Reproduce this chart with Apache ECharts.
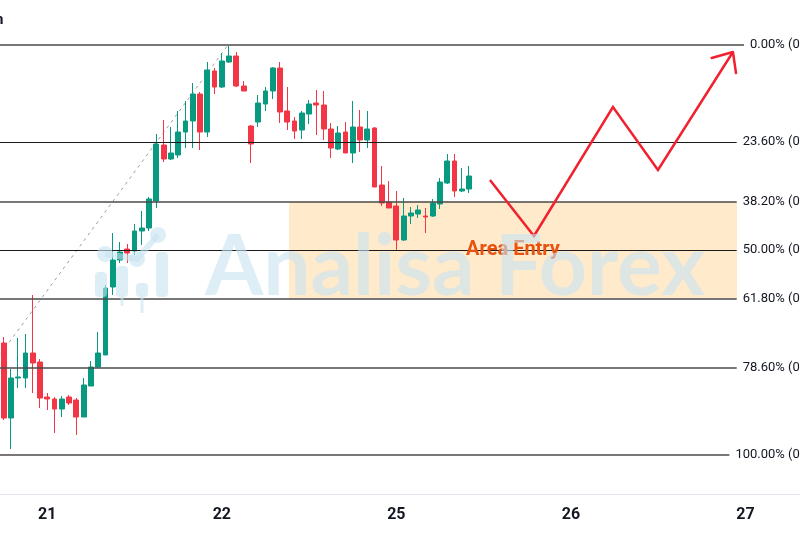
<!DOCTYPE html>
<html>
<head>
<meta charset="utf-8">
<script src="https://cdn.jsdelivr.net/npm/echarts@6/dist/echarts.min.js"></script>
<style>html,body{margin:0;padding:0;background:#fff}#c{width:800px;height:533px}</style>
</head>
<body>
<div id="c"></div>
<script>
// ---- categories (hourly slots, weekend skipped) ----
const sessionDays = ['20', '21', '22', '25', '26', '27'];
const sessionFirstHour = [18, 0, 0, 0, 0, 0];
const sessionLastHour = [23, 23, 23, 23, 23, 7];
const categories = [];
sessionDays.forEach(function (d, k) {
  for (let h = sessionFirstHour[k]; h <= sessionLastHour[k]; h++) {
    categories.push(d + ' ' + (h < 10 ? '0' + h : h) + ':00');
  }
});

// ---- candles ----
const opens = [0.6612,0.6537,0.6577,0.6577,0.6602,0.6593,0.6558,0.6556,0.6546,0.6558,
  0.6555,0.6538,0.6569,0.6588,0.6600,0.6668,0.6695,0.6706,0.6704,0.6724,
  0.6727,0.6754,0.6810,0.6796,0.6800,0.6823,0.6834,0.6861,0.6823,0.6884,
  0.6868,0.6893,0.6899,0.6869,0.6829,0.6833,0.6851,0.6864,0.6887,0.6844,
  0.6834,0.6825,0.6841,0.6852,0.6850,0.6826,0.6806,0.6823,0.6802,0.6828,
  0.6815,0.6827,0.6770,0.6753,0.6749,0.6715,0.6739,0.6741,0.6739,0.6739,
  0.6751,0.6772,0.6794,0.6764,0.6766];
const closes = [0.6537,0.6577,0.6578,0.6602,0.6592,0.6557,0.6556,0.6546,0.6556,0.6552,
  0.6538,0.6570,0.6588,0.6602,0.6667,0.6695,0.6703,0.6702,0.6724,0.6727,
  0.6756,0.6811,0.6796,0.6802,0.6823,0.6834,0.6861,0.6823,0.6885,0.6868,
  0.6894,0.6899,0.6869,0.6864,0.6811,0.6852,0.6864,0.6887,0.6843,0.6833,
  0.6824,0.6842,0.6851,0.6850,0.6826,0.6807,0.6822,0.6802,0.6828,0.6815,
  0.6826,0.6768,0.6752,0.6747,0.6715,0.6739,0.6742,0.6745,0.6738,0.6752,
  0.6773,0.6794,0.6764,0.6766,0.6779];
const lows = [0.6535,0.6506,0.6567,0.6567,0.6562,0.6547,0.6545,0.6522,0.6538,0.6550,
  0.6520,0.6538,0.6569,0.6588,0.6600,0.6660,0.6692,0.6692,0.6700,0.6710,
  0.6724,0.6747,0.6793,0.6795,0.6797,0.6807,0.6807,0.6805,0.6818,0.6861,
  0.6867,0.6892,0.6868,0.6864,0.6792,0.6828,0.6844,0.6856,0.6832,0.6825,
  0.6816,0.6816,0.6831,0.6820,0.6815,0.6797,0.6805,0.6802,0.6792,0.6803,
  0.6807,0.6768,0.6749,0.6747,0.6704,0.6714,0.6731,0.6737,0.6722,0.6738,
  0.6746,0.6771,0.6758,0.6763,0.6762];
const highs = [0.6618,0.6586,0.6617,0.6621,0.6660,0.6596,0.6562,0.6558,0.6559,0.6560,
  0.6557,0.6577,0.6594,0.6623,0.6670,0.6722,0.6713,0.6711,0.6731,0.6744,
  0.6758,0.6821,0.6835,0.6828,0.6844,0.6854,0.6872,0.6863,0.6893,0.6887,
  0.6902,0.6909,0.6903,0.6874,0.6830,0.6860,0.6868,0.6888,0.6893,0.6868,
  0.6838,0.6844,0.6855,0.6865,0.6864,0.6832,0.6829,0.6833,0.6854,0.6845,
  0.6844,0.6828,0.6789,0.6774,0.6764,0.6757,0.6748,0.6750,0.6747,0.6756,
  0.6777,0.6801,0.6801,0.6787,0.6789];

// ---- fibonacci retracement ----
const fibLevels = [0, 23.6, 38.2, 50, 61.8, 78.6, 100];
const fibHigh = 0.6910;
const fibLow = 0.6500;
const fibTrend = [[-10.65, 0.6500], [30.85, 0.6910]];

// ---- drawings (slot index, price) ----
const projectionPath = [[66.87, 0.6775], [72.92, 0.6719], [83.78, 0.6848], [89.97, 0.6785], [100.28, 0.6903]];
const arrowHead = [[97.35, 0.6897], [100.28, 0.6903], [100.70, 0.6882]];
const entryZone = [[39.24, 0.675338], [100.84, 0.665662]];
const entryLabel = { text: 'Area Entry', slot: 70.04, price: 0.6705 };
const watermarkText = 'Analisa Forex';

const chart = echarts.init(document.getElementById('c'), null, { renderer: 'canvas' });
const W = chart.getWidth();
const slotPx = W / categories.length;

const candleData = opens.map(function (o, i) { return [o, closes[i], lows[i], highs[i]]; });

const mctx = document.createElement('canvas').getContext('2d');
function textW(t, font) { mctx.font = font; return mctx.measureText(t).width; }
const fibFont = '13px Roboto';
function fibText(p) {
  const price = fibHigh - p / 100 * (fibHigh - fibLow);
  return p.toFixed(2) + '% (' + price.toFixed(5) + ')';
}
const labelAnchor = 750 + textW(fibText(0), fibFont);
const fibLines = fibLevels.map(function (p) {
  const price = fibHigh - p / 100 * (fibHigh - fibLow);
  const txt = fibText(p);
  const endPx = labelAnchor - textW(txt, fibFont) - 6;
  const endVal = endPx / slotPx - 0.5;
  const thick = (p === 23.6 || p === 50) ? { color: '#1a1a1a', width: 1 } : { color: '#4a4a4a', width: 1.5 };
  return [
    { coord: [-0.5, price], lineStyle: { color: thick.color, width: thick.width, type: 'solid' } },
    { coord: [endVal, price], label: { show: true, position: 'end', distance: 6, formatter: txt,
        color: '#131722', fontSize: 13, fontFamily: 'Roboto' } }
  ];
});

// watermark size
let wmSize = 76;
wmSize = wmSize * 500 / textW(watermarkText, 'bold ' + wmSize + 'px Lato');
const wmFill = 'rgba(200,226,242,0.6)';
const WZ = 100;

const option = {
  backgroundColor: '#ffffff',
  animation: false,
  grid: { left: 0, right: 0, top: 0, bottom: 39, containLabel: false },
  xAxis: [
    {
      type: 'category', data: categories, boundaryGap: true,
      axisLine: { show: true, lineStyle: { color: '#e0e3eb', width: 1 } },
      axisTick: { show: false },
      splitLine: { show: false },
      axisLabel: {
        interval: function (idx, val) { return val.slice(-5) === '00:00'; },
        formatter: function (val) { return val.split(' ')[0]; },
        color: '#131722', fontSize: 16, fontFamily: 'Roboto', fontWeight: 'bold', margin: 13
      }
    },
    { type: 'value', min: -0.5, max: categories.length - 0.5, show: false, splitLine: { show: false } }
  ],
  yAxis: { type: 'value', min: 0.6461, max: 0.6955, show: false, scale: true, splitLine: { show: false } },
  series: [
    {
      type: 'line', xAxisIndex: 1, data: fibTrend, symbol: 'none', z: 1, silent: true,
      lineStyle: { color: '#9e9e9e', width: 1, type: [3, 4] }, clip: true,
      markArea: {
        silent: true, z: 1,
        itemStyle: { color: '#ffeacc' },
        data: [[{ coord: entryZone[0] }, { coord: entryZone[1] }]]
      }
    },
    {
      type: 'candlestick', xAxisIndex: 0, data: candleData, barWidth: '72%', z: 2, silent: true,
      itemStyle: { color: '#089981', color0: '#f23645', borderColor: '#089981', borderColor0: '#f23645', borderWidth: 1 }
    },
    {
      type: 'line', xAxisIndex: 1, data: [], symbol: 'none', z: 3, silent: true,
      markLine: { silent: true, symbol: ['none', 'none'], z: 5, data: fibLines, animation: false }
    },
    {
      type: 'line', xAxisIndex: 1, data: projectionPath, symbol: 'none', z: 6, silent: true,
      lineStyle: { color: '#f2212f', width: 2.5, join: 'miter' },
      markPoint: {
        silent: true, z: 7, symbol: 'rect', symbolSize: 1, itemStyle: { color: 'rgba(0,0,0,0)' },
        label: { show: true, position: 'inside', formatter: entryLabel.text, color: '#e8530f',
          fontSize: 20, fontWeight: 'bold', fontFamily: 'Roboto' },
        data: [{ coord: [entryLabel.slot, entryLabel.price] }]
      }
    },
    {
      type: 'line', xAxisIndex: 1, data: arrowHead, symbol: 'none', z: 6, silent: true,
      lineStyle: { color: '#f2212f', width: 2.5, join: 'round', cap: 'round' }
    }
  ],
  graphic: {
    zlevel: 1,
    elements: [
      { type: 'text', z: 50, x: -5, y: 20, style: { text: 'n', fill: '#131722', font: 'bold 15px Roboto', verticalAlign: 'middle' } },
      { type: 'rect', z: WZ, silent: true, shape: { x: 95, y: 272, width: 12, height: 25, r: 4 }, style: { fill: wmFill } },
      { type: 'rect', z: WZ, silent: true, shape: { x: 116, y: 266, width: 12, height: 31, r: 4 }, style: { fill: wmFill } },
      { type: 'rect', z: WZ, silent: true, shape: { x: 136, y: 283, width: 12, height: 14, r: 4 }, style: { fill: wmFill } },
      { type: 'rect', z: WZ, silent: true, shape: { x: 156, y: 252, width: 12, height: 45, r: 4 }, style: { fill: wmFill } },
      { type: 'line', z: WZ, silent: true, shape: { x1: 122, y1: 297, x2: 122, y2: 306 }, style: { stroke: wmFill, lineWidth: 3 } },
      { type: 'line', z: WZ, silent: true, shape: { x1: 142, y1: 297, x2: 142, y2: 313 }, style: { stroke: wmFill, lineWidth: 3 } },
      { type: 'polyline', z: WZ, silent: true, shape: { points: [[105, 254], [137, 259], [158, 235]] }, style: { stroke: wmFill, lineWidth: 6, fill: null } },
      { type: 'circle', z: WZ, silent: true, shape: { cx: 105, cy: 254, r: 8 }, style: { fill: wmFill } },
      { type: 'circle', z: WZ, silent: true, shape: { cx: 137, cy: 259, r: 8 }, style: { fill: wmFill } },
      { type: 'circle', z: WZ, silent: true, shape: { cx: 158, cy: 235, r: 8 }, style: { fill: wmFill } },
      { type: 'text', z: WZ, silent: true, x: 205, y: 268, style: { text: watermarkText, fill: wmFill,
          font: 'bold ' + wmSize.toFixed(1) + 'px Lato', align: 'left', verticalAlign: 'middle' } }
    ]
  }
};
chart.setOption(option);
</script>
</body>
</html>
